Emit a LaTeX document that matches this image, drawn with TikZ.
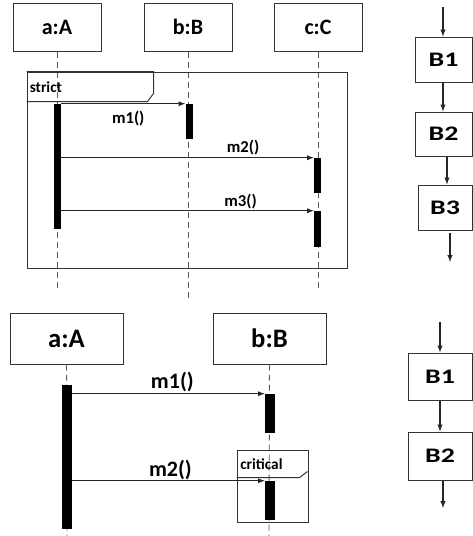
\documentclass[tikz,border=0pt]{standalone}
\usepackage{fontspec}
\setmainfont{Carlito}
\newfontfamily\blockfont[FakeStretch=1.35]{Carlito}
\begin{document}
\begin{tikzpicture}[x=0.75pt,y=-0.75pt,
    obj/.style={draw=black!80,line width=0.75pt,minimum width=66pt,minimum height=36pt,text=black,font=\fontsize{16.5}{18}\selectfont\bfseries},
    bigobj/.style={obj,minimum width=84.75pt,minimum height=38.25pt,font=\fontsize{20}{22}\selectfont\bfseries},
    act/.style={fill=black,draw=none,inner sep=0pt,minimum width=5.25pt},
    bigact/.style={act,minimum width=7.5pt},
    life/.style={dash pattern=on 4.5pt off 3pt,black!65,line width=0.7pt},
    msg/.style={-latex,black!85,line width=0.7pt},
    lbl/.style={text=black,font=\fontsize{12.5}{14}\selectfont\bfseries,inner sep=0pt},
    biglbl/.style={lbl,font=\fontsize{16.5}{18}\selectfont\bfseries},
    frm/.style={draw=black!80,line width=0.75pt,inner sep=0pt},
    tag/.style={text=black,font=\fontsize{11.5}{13}\selectfont\bfseries,inner sep=0pt,anchor=west},
    blk/.style={draw=black!80,line width=0.75pt,minimum width=42.75pt,minimum height=33.75pt,text=black,font=\fontsize{15.5}{17}\blockfont\bfseries},
    flow/.style={-latex,black!85,line width=0.8pt}]
    \useasboundingbox (0,0) rectangle (473,536);

    %strict
    \node[obj] (sA) at (57,27) {a:A};
    \node[obj] (sB) at (188,27) {b:B};
    \node[obj] (sC) at (318,27) {c:C};
    \coordinate (sAend) at (57,290);
    \coordinate (sBend) at (188,298);
    \coordinate (sCend) at (318,290);
    \draw[life] (sA.south) -- (sAend);
    \draw[life] (sB.south) -- (sBend);
    \draw[life] (sC.south) -- (sCend);

    \node[frm,minimum width=240pt,minimum height=147pt] (frS) at (187,170) {};
    \draw[frm] (frS.north west) -| ++(127,22) -- ++(-6,8) -- ++(-121,0);
    \node[tag] (strictlbl) at (29.5,87) {strict};

    \node[act,minimum height=93.75pt] (sactA) at (57.5,166.5) {};
    \node[act,minimum height=26.25pt] (sactB) at (189,121.5) {};
    \node[act,minimum height=26.25pt] (sactC1) at (317.5,175.5) {};
    \node[act,minimum height=27pt] (sactC2) at (317.5,229) {};

    \draw[msg] (sactA.east |- sactB.north) -- (sactB.north west)
        node[lbl,below=5pt,pos=0.54] (sm1) {m1()};
    \draw[msg] (sactA.east |- sactC1.north) -- (sactC1.north west)
        node[lbl,above=2pt,pos=0.72] (sm2) {m2()};
    \draw[msg] (sactA.east |- sactC2.north) -- (sactC2.north west)
        node[lbl,above=1pt,pos=0.71] (sm3) {m3()};

    %critical
    \node[bigobj] (cA) at (66.5,338.5) {a:A};
    \node[bigobj] (cB) at (269.5,338.5) {b:B};
    \coordinate (cAend) at (67,536);
    \coordinate (cBend) at (269,536);
    \draw[life] (cA.south) -- (cAend);
    \draw[life] (cB.south) -- (cBend);

    \node[frm,minimum width=53.25pt,minimum height=54pt] (frC) at (272.5,486) {};
    \draw[frm] ([yshift=-21pt]frC.north west) -- ++(63,0) -- ++(8,-6);
    \node[tag] (critlbl) at (240,464) {critical};

    \node[bigact,minimum height=108pt] (cactA) at (67,457) {};
    \node[bigact,minimum height=29.25pt] (cactB1) at (270,413.5) {};
    \node[bigact,minimum height=29.25pt] (cactB2) at (270,500.5) {};

    \draw[msg] (cactA.east |- cactB1.north) -- (cactB1.north west)
        node[biglbl,above=1pt,pos=0.52] (cm1) {m1()};
    \draw[msg] (cactA.east |- cactB2.north) -- (cactB2.north west)
        node[biglbl,above=0.5pt,pos=0.51] (cm2) {m2()};

    %blocks top
    \coordinate (tin) at (443,7);
    \node[blk] (tB1) at (443.5,59.5) {B1};
    \node[blk,minimum height=33pt] (tB2) at (443.5,134) {B2};
    \node[blk,minimum width=40.5pt] (tB3) at (445,207.5) {B3};
    \coordinate (tout) at (450,262);
    \draw[flow] (tin) -- (tin |- tB1.north);
    \draw[flow] (tB1.south -| tin) -- (tin |- tB2.north);
    \draw[flow] ([xshift=2.6pt]tB2.south) -- ([xshift=2.6pt]tB2.south |- tB3.north);
    \draw[flow,shorten <=2pt] (tB3.south -| tout) -- (tout);

    %blocks bottom
    \coordinate (bin) at (440,322);
    \node[blk,minimum width=48pt,minimum height=35.25pt] (bB1) at (440,376.5) {B1};
    \node[blk,minimum width=48pt,minimum height=36pt] (bB2) at (440,456) {B2};
    \coordinate (bout) at (443,508);
    \draw[flow] (bin) -- (bB1.north);
    \draw[flow] (bB1.south) -- (bB2.north);
    \draw[flow] (bB2.south -| bout) -- (bout);
\end{tikzpicture}
\end{document}
